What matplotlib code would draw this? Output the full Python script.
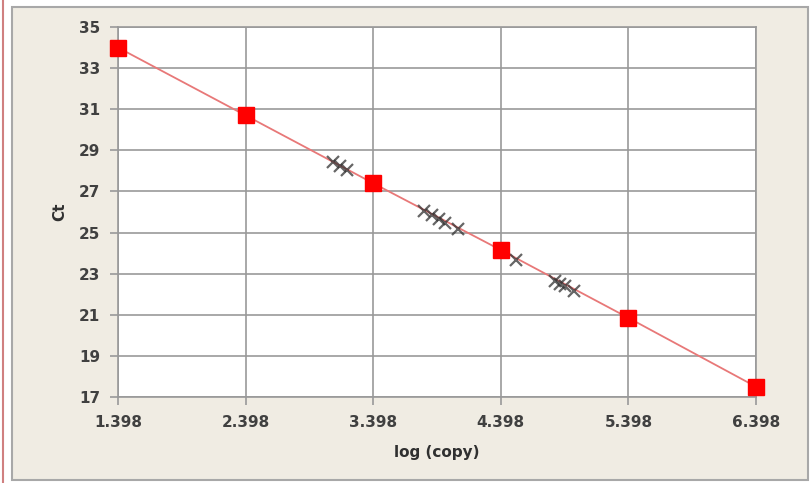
import matplotlib
matplotlib.use("Agg")
import matplotlib.pyplot as plt
from matplotlib.patches import Rectangle
from matplotlib.lines import Line2D

# Standards (red squares)
std_x = [1.398, 2.398, 3.398, 4.398, 5.398, 6.398]
std_ct = [34.0, 30.7, 27.4, 24.15, 20.85, 17.5]

# Unknown samples (crosses)
unk_x = [3.08, 3.14, 3.19, 3.80, 3.86, 3.91, 3.96, 4.06, 4.52, 4.82, 4.86, 4.90, 4.97]
unk_ct = [28.45, 28.25, 28.05, 26.05, 25.85, 25.65, 25.45, 25.15, 23.65, 22.62, 22.50, 22.38, 22.15]

xticks = [1.398, 2.398, 3.398, 4.398, 5.398, 6.398]
xtick_labels = ["1.398", "2.398", "3.398", "4.398", "5.398", "6.398"]
yticks = [17, 19, 21, 23, 25, 27, 29, 31, 33, 35]

fig = plt.figure(figsize=(8.12, 4.83), dpi=100)
fig.patch.set_facecolor("white")

# chart area background and border
fig.patches.append(Rectangle((12/812, 3/483), 796/812, (476-3)/483, transform=fig.transFigure,
                             facecolor="#f0ece3", edgecolor="#a8a8a8", linewidth=1.5, zorder=-10))
fig.lines.append(Line2D([3/812, 3/812], [0, 1], transform=fig.transFigure, color="#d08080",
                        linewidth=1.5, zorder=-10))

ax = fig.add_axes([118/812, 1 - 397/483, (756-118)/812, (397-27)/483])
ax.set_facecolor("white")
ax.set_zorder(1)

ax.plot(std_x, std_ct, color="#e87878", linewidth=1.3, zorder=3)
ax.plot(std_x, std_ct, linestyle="none", marker="s", markersize=11, color="#ff0000",
        markeredgecolor="#ff0000", zorder=5, clip_on=False)
ax.plot(unk_x, unk_ct, linestyle="none", marker="x", markersize=8, markeredgewidth=1.6,
        color="#333333", alpha=0.75, zorder=4)

ax.set_xlim(1.398, 6.398)
ax.set_ylim(17, 35)
ax.set_xticks(xticks)
ax.set_xticklabels(xtick_labels)
ax.set_yticks(yticks)
ax.grid(True, color="#999999", linewidth=1.2)
ax.set_axisbelow(True)
for s in ax.spines.values():
    s.set_color("#999999")
    s.set_linewidth(1.2)
ax.tick_params(axis="both", direction="out", length=6, width=1.2, color="#999999",
               labelsize=11, labelcolor="#404040", pad=7)
for lbl in ax.get_xticklabels() + ax.get_yticklabels():
    lbl.set_fontweight("bold")

ax.set_xlabel("log (copy)", fontsize=11, fontweight="bold", color="#303030", labelpad=11)
ax.set_ylabel("Ct", fontsize=11, fontweight="bold", color="#303030", labelpad=8)

fig.savefig("out.png", dpi=100, facecolor=fig.get_facecolor())
